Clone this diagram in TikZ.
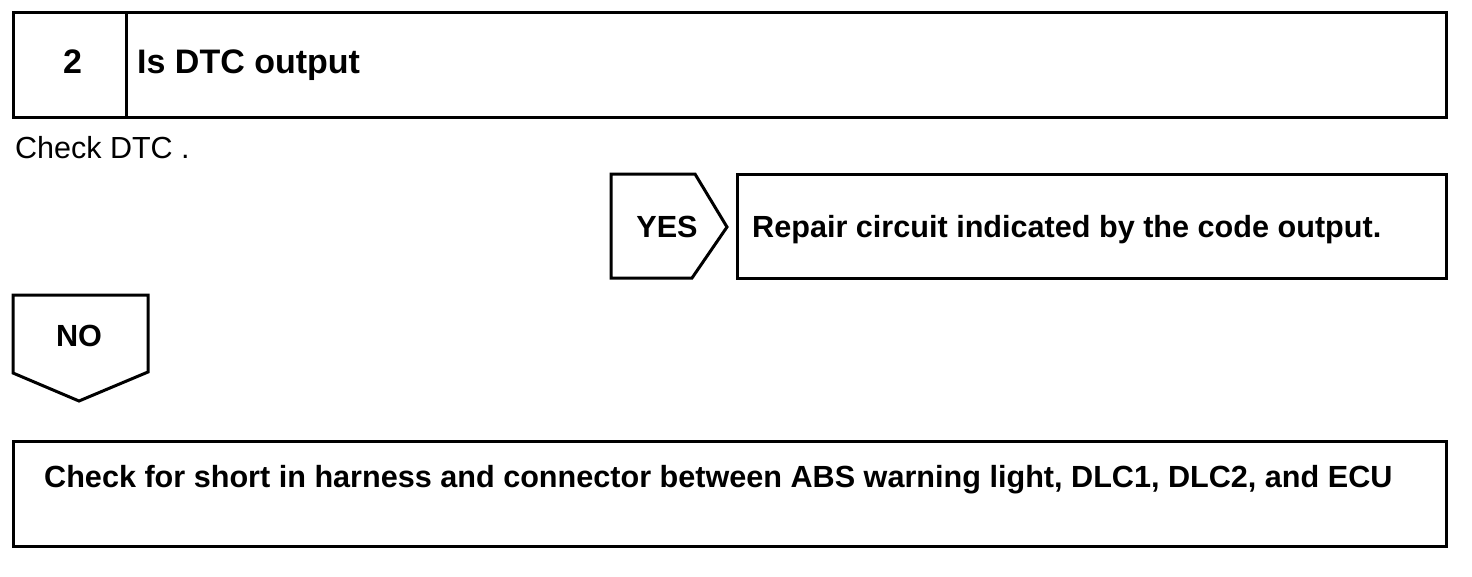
\documentclass[tikz,border=0pt]{standalone}
\usepackage{fontspec}
\setmainfont{Liberation Sans}
\begin{document}
\begin{tikzpicture}[x=1pt,y=-1pt,
  frame/.style={draw=black,line width=3pt,line join=miter},
  bold/.style={font=\fontsize{30.6}{36}\selectfont\bfseries,inner sep=0pt},
  bigbold/.style={font=\fontsize{34}{40}\selectfont\bfseries,inner sep=0pt},
  plain/.style={font=\fontsize{30.5}{36}\selectfont,inner sep=0pt}]
\useasboundingbox (0,0) rectangle (1472,576);
% top header
\draw[frame] (13,12) rectangle (1446,117);
\draw[frame] (126,12) -- (126,117);
\node[bigbold,anchor=base] (num) at (72.5,73) {2};
\node[bigbold,anchor=base west] (q) at (137,73) {Is DTC output};
\node[plain,anchor=base west] (chk) at (15,158) {Check DTC .};
% YES
\draw[frame] (611,174) -- (695,174) -- (727,227) -- (692,278) -- (611,278) -- cycle;
\node[bold,anchor=base] (yes) at (667,237) {YES};
\draw[frame] (737,174) rectangle (1446,278);
\node[bold,anchor=base west] (rep) at (752,237) {Repair circuit indicated by the code output.};
% NO
\draw[frame] (13,295) -- (148,295) -- (148,372) -- (79,401) -- (13,373) -- cycle;
\node[bold,anchor=base] (no) at (79,346) {NO};
% bottom box
\draw[frame] (13,441) rectangle (1446,546);
\node[bold,anchor=base west] (sh) at (44,487) {Check for short in harness and connector between ABS warning light, DLC1, DLC2, and ECU};
\end{tikzpicture}
\end{document}
